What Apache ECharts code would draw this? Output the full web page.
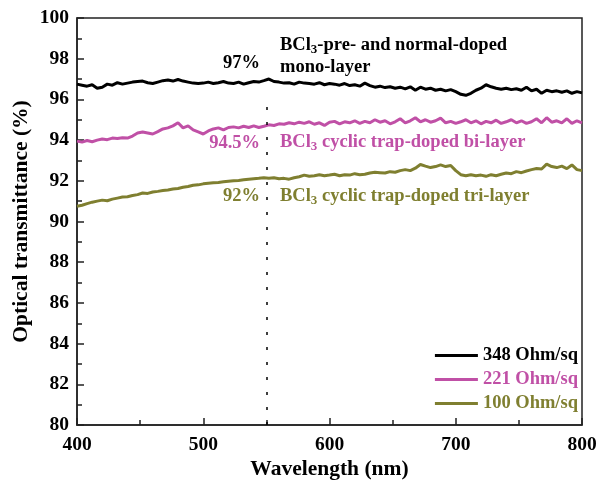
<!DOCTYPE html>
<html>
<head>
<meta charset="utf-8">
<script src="https://cdn.jsdelivr.net/npm/echarts@6/dist/echarts.min.js"></script>
<style>
  html, body { margin: 0; padding: 0; background: #fff; }
  #chart { width: 598px; height: 480px; }
</style>
</head>
<body>
<div id="chart"></div>
<script>
// wavelength grid (nm), 4 nm step
const wlStart = 400
const wlStep = 4

// 348 Ohm/sq, BCl3-pre- and normal-doped mono-layer
const mono = [
  96.75, 96.7, 96.65, 96.72, 96.55, 96.6, 96.75, 96.7, 96.82, 96.75,
  96.8, 96.85, 96.88, 96.9, 96.82, 96.78, 96.85, 96.92, 96.95, 96.9,
  96.98, 96.9, 96.85, 96.8, 96.78, 96.8, 96.85, 96.78, 96.82, 96.88,
  96.8, 96.78, 96.85, 96.75, 96.82, 96.88, 96.85, 96.92, 97.0, 96.88,
  96.85, 96.8, 96.82, 96.75, 96.85, 96.8, 96.78, 96.75, 96.82, 96.72,
  96.78, 96.75, 96.7, 96.78, 96.68, 96.72, 96.65, 96.8, 96.68, 96.6,
  96.65, 96.58, 96.62, 96.55, 96.6, 96.52, 96.62, 96.45, 96.6, 96.5,
  96.55, 96.45, 96.5, 96.42, 96.48, 96.38, 96.25, 96.2, 96.3, 96.45,
  96.55, 96.72, 96.62, 96.55, 96.5, 96.55, 96.48, 96.52, 96.45, 96.6,
  96.42, 96.5, 96.3, 96.45, 96.38, 96.42, 96.35, 96.42, 96.3, 96.38,
  96.32,
]
// 221 Ohm/sq, BCl3 cyclic trap-doped bi-layer
const bi = [
  93.95, 93.9, 93.98, 93.92, 94.0, 94.05, 94.02, 94.1, 94.08, 94.12,
  94.1, 94.2, 94.35, 94.4, 94.35, 94.3, 94.42, 94.55, 94.6, 94.7,
  94.85, 94.6, 94.7, 94.5, 94.4, 94.3, 94.45, 94.55, 94.6, 94.5,
  94.62, 94.65, 94.6, 94.68, 94.62, 94.7, 94.62, 94.68, 94.75, 94.72,
  94.8, 94.78, 94.85, 94.8, 94.88, 94.82, 94.9, 94.78, 94.85, 94.72,
  94.88, 94.92, 94.8, 94.9, 94.85, 94.95, 94.82, 94.92, 94.85, 95.0,
  94.88, 94.95, 94.8, 94.9, 95.05, 94.85, 94.95, 95.1, 94.9, 95.0,
  94.88, 94.95, 95.08, 94.85, 94.92, 94.82, 94.9, 95.0, 94.85, 94.95,
  94.8, 94.92, 94.85, 94.98, 94.82, 94.9, 95.0, 94.85, 94.95, 94.82,
  94.9, 95.05, 94.85, 95.1, 94.88, 94.95, 94.85, 95.05, 94.82, 94.95,
  94.85,
]
// 100 Ohm/sq, BCl3 cyclic trap-doped tri-layer
const tri = [
  90.75, 90.8, 90.88, 90.95, 91.0, 91.05, 91.02, 91.1, 91.15, 91.2,
  91.22, 91.28, 91.32, 91.4, 91.38, 91.45, 91.48, 91.52, 91.55, 91.6,
  91.62, 91.68, 91.72, 91.78, 91.8, 91.85, 91.88, 91.9, 91.92, 91.95,
  91.98, 92.0, 92.02, 92.05, 92.08, 92.1, 92.12, 92.15, 92.12, 92.15,
  92.1, 92.12, 92.08, 92.15, 92.2, 92.28, 92.22, 92.25, 92.3, 92.25,
  92.28, 92.32, 92.25, 92.3, 92.28, 92.35, 92.3, 92.32, 92.38, 92.42,
  92.4, 92.38, 92.45, 92.42, 92.5, 92.55, 92.5, 92.62, 92.8, 92.72,
  92.65, 92.7, 92.78, 92.7, 92.75, 92.5, 92.3, 92.25, 92.3, 92.25,
  92.28, 92.22, 92.3, 92.25, 92.32, 92.38, 92.35, 92.45, 92.4, 92.48,
  92.55, 92.6, 92.58, 92.82, 92.7, 92.65, 92.72, 92.6, 92.78, 92.55,
  92.5,
]

const seriesNames = ['348 Ohm/sq', '221 Ohm/sq', '100 Ohm/sq']
const colors = ['#000000', '#c050a6', '#7f7f30']

const font = 'Liberation Serif'
const annFont = 'bold 18.5px ' + font
const subFont = 'bold 13px ' + font
const toPairs = (arr) => arr.map((v, i) => [wlStart + i * wlStep, v])

const chart = echarts.init(document.getElementById('chart'))

const lineSeries = (name, data, color, extra) => Object.assign({
  name: name,
  type: 'line',
  data: toPairs(data),
  symbol: 'none',
  lineStyle: { color: color, width: 3 },
  itemStyle: { color: color },
  animation: false,
  z: 3,
}, extra || {})

// 标注文字（带下标）
const bclLabel = (y, rest, color) => ({
  type: 'text',
  style: {
    x: 280, y: y,
    verticalAlign: 'middle',
    text: '{a|BCl}{s|3}{a|' + rest + '}',
    rich: {
      a: { font: annFont, fill: color },
      s: { font: subFont, fill: color, padding: [9, 0, 0, 0] },
    },
  },
})

const pctLabel = (y, text, color) => ({
  type: 'text',
  style: { x: 260, y: y, align: 'right', verticalAlign: 'middle', text: text, font: annFont, fill: color },
})

chart.setOption({
  animation: false,
  grid: {
    left: 77, right: 16, top: 18, bottom: 55,
    outerBoundsMode: 'none',
    show: true, borderColor: '#222', borderWidth: 1.5,
  },
  xAxis: {
    type: 'value',
    min: 400, max: 800, interval: 100,
    name: 'Wavelength (nm)',
    nameLocation: 'middle', nameGap: 33,
    nameMoveOverlap: false,
    nameTextStyle: { fontFamily: font, fontWeight: 'bold', fontSize: 21.5, color: '#000' },
    axisLine: { lineStyle: { color: '#222', width: 1.5 } },
    axisTick: { inside: true, length: 7, lineStyle: { color: '#222', width: 1.5 } },
    minorTick: { show: true, splitNumber: 2, length: 5, lineStyle: { color: '#222', width: 1.5 } },
    axisLabel: { fontFamily: font, fontWeight: 'bold', fontSize: 19.5, color: '#000', margin: 10 },
    splitLine: { show: false },
  },
  yAxis: {
    type: 'value',
    min: 80, max: 100, interval: 2,
    name: 'Optical transmittance (%)',
    nameLocation: 'middle', nameGap: 45,
    nameMoveOverlap: false,
    nameTextStyle: { fontFamily: font, fontWeight: 'bold', fontSize: 21.5, color: '#000' },
    axisLine: { lineStyle: { color: '#222', width: 1.5 } },
    axisTick: { inside: true, length: 7, lineStyle: { color: '#222', width: 1.5 } },
    minorTick: { show: true, splitNumber: 2, length: 5, lineStyle: { color: '#222', width: 1.5 } },
    axisLabel: { fontFamily: font, fontWeight: 'bold', fontSize: 19.5, color: '#000', margin: 8 },
    splitLine: { show: false },
  },
  legend: {
    data: seriesNames.map((n, i) => ({ name: n, textStyle: { color: colors[i] } })),
    orient: 'vertical',
    right: 20, top: 346,
    padding: 0,
    icon: 'rect',
    itemWidth: 43, itemHeight: 3, itemGap: 5,
    textStyle: { fontFamily: font, fontWeight: 'bold', fontSize: 18.5 },
  },
  series: [
    lineSeries(seriesNames[0], mono, colors[0], {
      markLine: {
        silent: true,
        symbol: 'none',
        label: { show: false },
        lineStyle: { color: '#000', type: [3, 12], width: 1.5 },
        data: [[{ coord: [550, 80] }, { coord: [550, 96.15] }]],
      },
    }),
    lineSeries(seriesNames[1], bi, colors[1]),
    lineSeries(seriesNames[2], tri, colors[2]),
  ],
  graphic: [
    pctLabel(63, '97%', colors[0]),
    pctLabel(143, '94.5%', colors[1]),
    pctLabel(196, '92%', colors[2]),
    bclLabel(45, '-pre- and normal-doped', colors[0]),
    { type: 'text', style: { x: 280, y: 67, verticalAlign: 'middle', text: 'mono-layer', font: annFont, fill: colors[0] } },
    bclLabel(142, ' cyclic trap-doped bi-layer', colors[1]),
    bclLabel(196, ' cyclic trap-doped tri-layer', colors[2]),
  ],
})
</script>
</body>
</html>
